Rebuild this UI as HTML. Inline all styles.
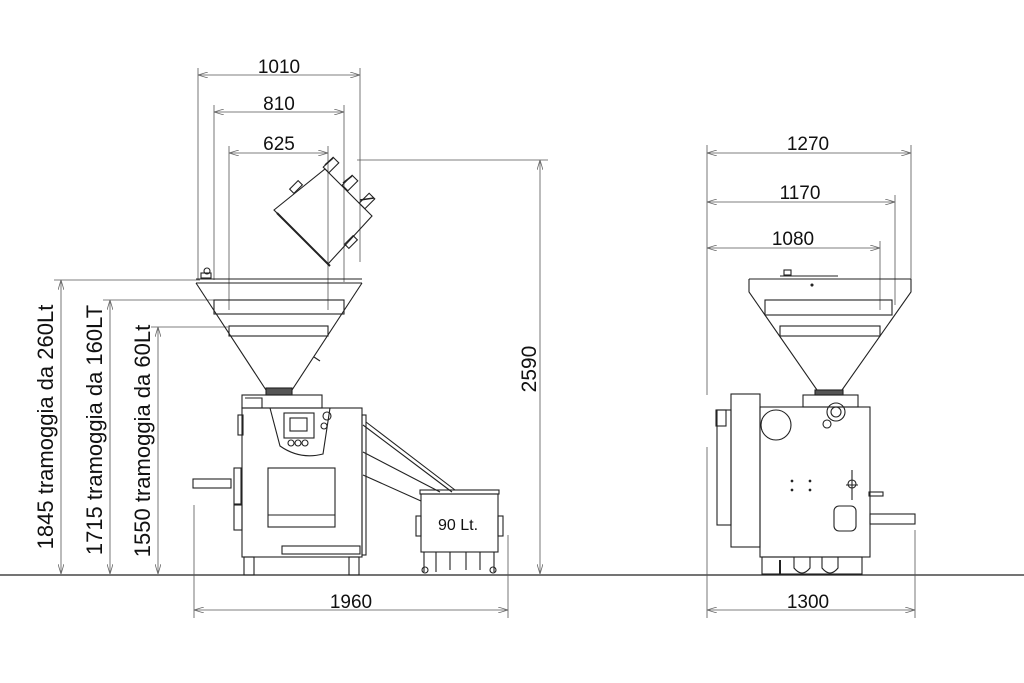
<!DOCTYPE html>
<html><head><meta charset="utf-8"><style>
html,body{margin:0;padding:0;background:#fff}
svg{display:block}
text{font-family:"Liberation Sans",sans-serif;fill:#111}
</style></head><body>
<svg width="1024" height="683" viewBox="0 0 1024 683" xmlns="http://www.w3.org/2000/svg">
<defs>
<marker id="a" viewBox="0 0 10 6" refX="10" refY="3" markerWidth="10" markerHeight="6" orient="auto-start-reverse" markerUnits="userSpaceOnUse"><path d="M0,0L10,3L0,6" fill="none" stroke="#666" stroke-width="0.8"/></marker>
</defs>
<g stroke="#222" stroke-width="1.1" fill="none">
<line x1="0" y1="575" x2="1024" y2="575" stroke-width="1.3"/>
<g stroke="#555" stroke-width="0.8">
<line x1="198" y1="75" x2="360" y2="75" marker-start="url(#a)" marker-end="url(#a)"/>
<line x1="214" y1="112" x2="344" y2="112" marker-start="url(#a)" marker-end="url(#a)"/>
<line x1="229" y1="153" x2="328" y2="153" marker-start="url(#a)" marker-end="url(#a)"/>
<line x1="198" y1="68" x2="198" y2="280"/><line x1="360" y1="68" x2="360" y2="262"/>
<line x1="214" y1="105" x2="214" y2="280"/><line x1="344" y1="105" x2="344" y2="282"/>
<line x1="229" y1="146" x2="229" y2="310"/><line x1="328" y1="146" x2="328" y2="310"/>
<line x1="540" y1="160" x2="540" y2="574" marker-start="url(#a)" marker-end="url(#a)"/>
<line x1="357" y1="160" x2="548" y2="160"/>
<line x1="61" y1="280" x2="61" y2="574" marker-start="url(#a)" marker-end="url(#a)"/>
<line x1="110" y1="300" x2="110" y2="574" marker-start="url(#a)" marker-end="url(#a)"/>
<line x1="158" y1="327" x2="158" y2="574" marker-start="url(#a)" marker-end="url(#a)"/>
<line x1="54" y1="280" x2="200" y2="280"/>
<line x1="103" y1="300" x2="215" y2="300"/>
<line x1="151" y1="327" x2="228" y2="327"/>
<line x1="194" y1="610" x2="508" y2="610" marker-start="url(#a)" marker-end="url(#a)"/>
<line x1="194" y1="505" x2="194" y2="618"/><line x1="508" y1="535" x2="508" y2="618"/>
<line x1="707" y1="153" x2="911" y2="153" marker-start="url(#a)" marker-end="url(#a)"/>
<line x1="707" y1="202" x2="895" y2="202" marker-start="url(#a)" marker-end="url(#a)"/>
<line x1="707" y1="248" x2="880" y2="248" marker-start="url(#a)" marker-end="url(#a)"/>
<line x1="707" y1="145" x2="707" y2="395"/><line x1="707" y1="447" x2="707" y2="618"/>
<line x1="911" y1="145" x2="911" y2="282"/><line x1="895" y1="195" x2="895" y2="305"/><line x1="880" y1="241" x2="880" y2="310"/>
<line x1="707" y1="610" x2="915" y2="610" marker-start="url(#a)" marker-end="url(#a)"/>
<line x1="915" y1="530" x2="915" y2="618"/>
</g>
<!-- LEFT MACHINE -->
<line x1="196" y1="279" x2="362" y2="279"/><line x1="196" y1="283" x2="362" y2="283"/>
<path d="M196,283 L266,390 M362,283 L292,390"/>
<rect x="214" y="300" width="130" height="14"/>
<rect x="229" y="326" width="99" height="10"/>
<rect x="201" y="273" width="10" height="5"/><circle cx="207" cy="271" r="3"/>
<line x1="314" y1="357" x2="320" y2="361"/>
<rect x="266" y="388" width="26" height="7" fill="#555"/>
<rect x="242" y="395" width="80" height="13"/><path d="M245,398 L262,398 L262,408"/>
<rect x="242" y="408" width="120" height="149"/>
<path d="M270,408 L280,446 Q300,460 323,454 L330,408"/>
<rect x="284" y="413" width="30" height="25"/><rect x="290" y="418" width="17" height="13"/>
<circle cx="291" cy="443" r="3"/><circle cx="298" cy="443" r="3"/><circle cx="305" cy="443" r="3"/>
<circle cx="327" cy="416" r="4"/><circle cx="324" cy="426" r="3"/>
<rect x="268" y="468" width="67" height="59"/><line x1="268" y1="515" x2="335" y2="515"/>
<rect x="282" y="546" width="78" height="8"/>
<rect x="244" y="557" width="10" height="18"/><rect x="349" y="557" width="10" height="18"/>
<rect x="238" y="415" width="5" height="20"/>
<rect x="193" y="479" width="38" height="9"/><rect x="234" y="468" width="7" height="36"/>
<rect x="234" y="505" width="8" height="25"/>
<rect x="362" y="415" width="4" height="140"/>
<path d="M363,425 L452,492 M366,422 L455,490 M363,452 L440,492 M363,475 L421,501"/>
<rect x="420" y="490" width="79" height="4"/>
<rect x="421" y="494" width="77" height="58"/>
<rect x="416" y="516" width="5" height="20"/><rect x="498" y="516" width="5" height="20"/>
<path d="M424,552 L424,572 M436,552 L436,572 M450,552 L450,570 M466,552 L466,570 M480,552 L480,570 M494,552 L494,572"/>
<circle cx="425" cy="570" r="3"/><circle cx="493" cy="570" r="3"/>
<path d="M274,210 L325,169 L372,216 L328,264 Z"/>
<line x1="277" y1="213" x2="330" y2="266" stroke-width="2"/>
<g stroke-width="1.5"><line x1="325" y1="165" x2="333" y2="158"/><line x1="343" y1="183" x2="352" y2="176"/><line x1="360" y1="200" x2="374" y2="198"/></g>
<rect x="327" y="158" width="8" height="14" transform="rotate(45 331 165)"/>
<rect x="346" y="176" width="8" height="14" transform="rotate(45 350 183)"/>
<rect x="363" y="194" width="8" height="14" transform="rotate(45 367 201)"/>
<rect x="293" y="181" width="6" height="12" transform="rotate(45 296 187)"/>
<rect x="348" y="236" width="6" height="12" transform="rotate(45 351 242)"/>
<!-- RIGHT MACHINE -->
<line x1="749" y1="279" x2="911" y2="279"/><line x1="780" y1="276" x2="838" y2="276"/>
<rect x="784" y="270" width="7" height="5"/>
<circle cx="812" cy="285" r="1" fill="#333"/>
<path d="M749,279 L749,292 L817,390 M911,279 L911,292 L842,390"/>
<rect x="765" y="300" width="127" height="15"/>
<rect x="780" y="326" width="100" height="10"/>
<rect x="815" y="390" width="28" height="5" fill="#555"/>
<rect x="803" y="395" width="55" height="12"/>
<rect x="731" y="394" width="29" height="153"/>
<rect x="717" y="410" width="14" height="115"/><rect x="716" y="410" width="10" height="16"/>
<rect x="760" y="407" width="110" height="150"/>
<circle cx="776" cy="425" r="15"/>
<circle cx="836" cy="412" r="9"/><circle cx="836" cy="412" r="5"/><circle cx="827" cy="424" r="4"/>
<path d="M852,470 L852,500 M846,485 L858,485"/><circle cx="852" cy="484" r="4"/>
<rect x="834" y="506" width="22" height="25" rx="5"/>
<rect x="870" y="514" width="45" height="10"/><rect x="869" y="492" width="14" height="4"/>
<circle cx="792" cy="481" r="0.8" fill="#333"/><circle cx="810" cy="481" r="0.8" fill="#333"/>
<circle cx="792" cy="490" r="0.8" fill="#333"/><circle cx="810" cy="490" r="0.8" fill="#333"/>
<rect x="762" y="557" width="100" height="17"/>
<path d="M794,557 L794,568 Q802,578 810,568 L810,557 M822,557 L822,568 Q830,578 838,568 L838,557"/>
<line x1="780" y1="560" x2="780" y2="575" stroke-width="2"/>
</g>
<g font-size="19" text-anchor="middle">
<text x="279" y="73">1010</text>
<text x="279" y="110">810</text>
<text x="279" y="150">625</text>
<text x="351" y="608">1960</text>
<text x="808" y="150">1270</text>
<text x="800" y="199">1170</text>
<text x="793" y="245">1080</text>
<text x="808" y="608">1300</text>
<text transform="translate(536,369) rotate(-90)" font-size="21">2590</text>
<text transform="translate(53,427) rotate(-90)" font-size="22">1845 tramoggia da 260Lt</text>
<text transform="translate(102,430) rotate(-90)" font-size="22">1715 tramoggia da 160LT</text>
<text transform="translate(150,441) rotate(-90)" font-size="22">1550 tramoggia da 60Lt</text>
<text x="458" y="530" font-size="16">90 Lt.</text>
</g>
</svg>
</body></html>
